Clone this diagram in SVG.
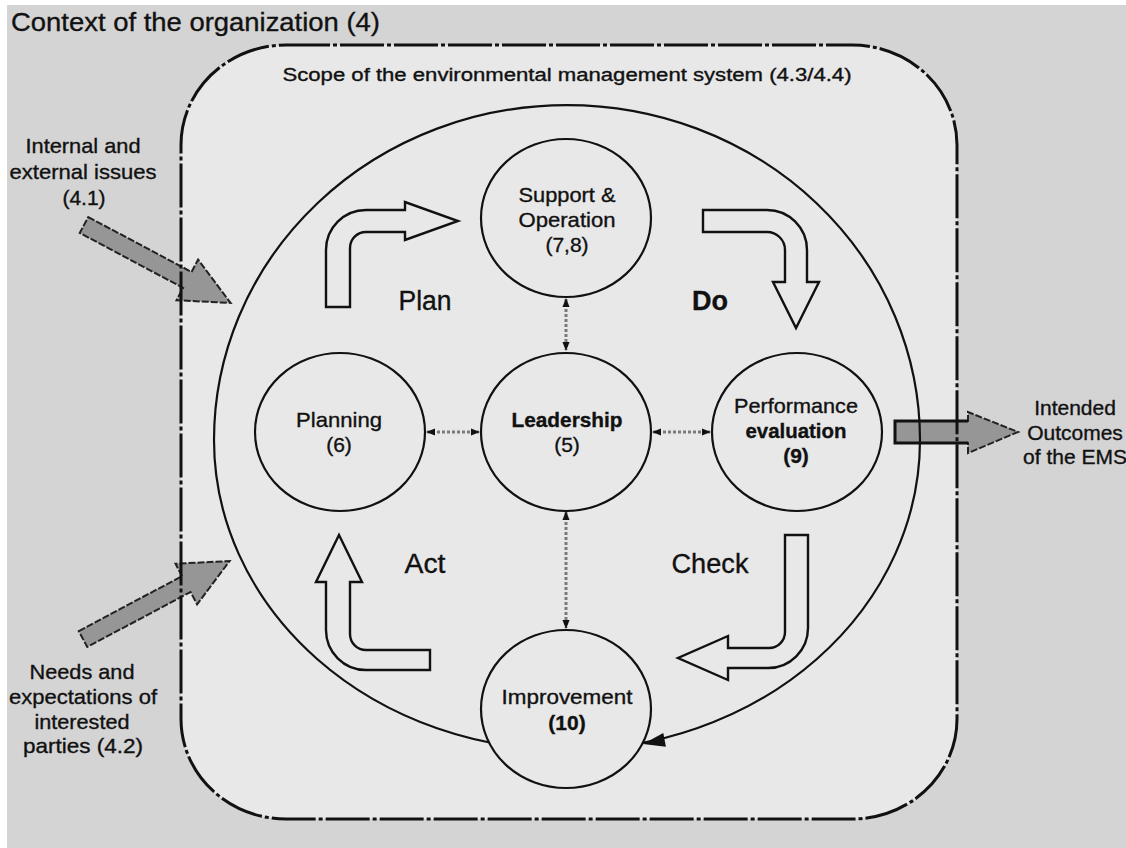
<svg xmlns="http://www.w3.org/2000/svg" width="1126" height="848" viewBox="0 0 1126 848">
<style>
text{font-family:"Liberation Sans",Arial,Helvetica,sans-serif;fill:#111;stroke:#111;stroke-width:0.35}
.lbl{font-size:21px;text-anchor:middle}
.b{font-weight:bold}
.pdca{font-size:27px;text-anchor:middle}
.node{fill:#e8e8e8;stroke:#111;stroke-width:2.2}
.hollow{fill:#e8e8e8;stroke:#111;stroke-width:2.4}
.gray{fill:#969696;stroke:#222;stroke-width:2;stroke-dasharray:7 2}
.conn{stroke:#7a7a7a;stroke-width:3;stroke-dasharray:3 2;fill:none}
</style>
<defs>
<marker id="ah" viewBox="0 0 10 10" refX="9" refY="5" markerWidth="9" markerHeight="9" markerUnits="userSpaceOnUse" orient="auto-start-reverse"><path d="M0,1 L10,5 L0,9 z" fill="#111"/></marker>
</defs>
<rect x="0" y="0" width="1126" height="848" fill="#ffffff"/>
<rect x="7" y="5" width="1119" height="843" fill="#d4d4d4"/>
<text x="11" y="31" font-size="26" textLength="369" lengthAdjust="spacingAndGlyphs">Context of the organization (4)</text>
<rect x="181" y="45" width="776" height="774" rx="105" ry="100" fill="#e8e8e8"/>
<g id="input-issues">
<polygon class="gray" points="0,-9 117,-9 117,-23 166,0 117,23 117,9 0,9" transform="translate(84,225) rotate(28)"/>
<text class="lbl" x="83" y="153" textLength="115" lengthAdjust="spacingAndGlyphs">Internal and</text>
<text class="lbl" x="83" y="179" textLength="147" lengthAdjust="spacingAndGlyphs">external issues</text>
<text class="lbl" x="84" y="205">(4.1)</text>
</g>
<g id="input-needs">
<polygon class="gray" points="0,-9 117,-9 117,-23 166,0 117,23 117,9 0,9" transform="translate(83,639) rotate(-28)"/>
<text class="lbl" x="82" y="679" textLength="105" lengthAdjust="spacingAndGlyphs">Needs and</text>
<text class="lbl" x="83" y="704" textLength="148" lengthAdjust="spacingAndGlyphs">expectations of</text>
<text class="lbl" x="82" y="729" textLength="95" lengthAdjust="spacingAndGlyphs">interested</text>
<text class="lbl" x="83" y="753" textLength="120" lengthAdjust="spacingAndGlyphs">parties (4.2)</text>
</g>
<g id="output-outcomes">
<polygon class="gray" points="895,421 968,421 968,412 1018,432 968,453 968,443 895,443"/>
<path d="M968,421 H895 V443 H968" fill="none" stroke="#111" stroke-width="3"/>
<text class="lbl" x="1075" y="415">Intended</text>
<text class="lbl" x="1075" y="440">Outcomes</text>
<text class="lbl" x="1075" y="464">of the EMS</text>
</g>
<g id="scope">
<rect x="181" y="45" width="776" height="774" rx="105" ry="100" fill="none" stroke="#111" stroke-width="3" stroke-dasharray="44 3 4 3"/>
<text x="567" y="81" font-size="18" text-anchor="middle" textLength="569" lengthAdjust="spacingAndGlyphs">Scope of the environmental management system (4.3/4.4)</text>
</g>
<g id="cycle">
<path d="M214,440 A353,335 0 0 1 920,440 A353,310 0 0 1 567,750 A353,310 0 0 1 214,440 Z" fill="none" stroke="#111" stroke-width="2.2"/>
</g>
<g id="pdca-arrows">
<path id="arrow-plan" class="hollow" d="M326,307 V250 A40,40 0 0 1 366,210 H405 V202 L458,221 L405,240 V232 H366 A16,16 0 0 0 350,248 V307 Z"/>
<path id="arrow-do" class="hollow" d="M703,210 H767 A40,40 0 0 1 807,250 V282 H819 L796,328 L773,282 H785 V250 A18,18 0 0 0 767,232 H703 Z"/>
<path id="arrow-check" class="hollow" d="M785,535 H808 V628 A40,40 0 0 1 768,668 H728 V680 L678,658 L728,636 V648 H769 A16,16 0 0 0 785,632 Z"/>
<path id="arrow-act" class="hollow" d="M339,535 L362,582 H350 V634 A16,16 0 0 0 366,650 H430 V670 H366 A40,40 0 0 1 326,630 V582 H316 Z"/>
<text class="pdca" x="425" y="310" textLength="53" lengthAdjust="spacingAndGlyphs">Plan</text>
<text class="pdca b" x="710" y="310" textLength="36" lengthAdjust="spacingAndGlyphs">Do</text>
<text class="pdca" x="425" y="573" textLength="41" lengthAdjust="spacingAndGlyphs">Act</text>
<text class="pdca" x="710" y="573" textLength="77" lengthAdjust="spacingAndGlyphs">Check</text>
</g>
<g id="connectors">
<line class="conn" x1="566" y1="299" x2="566" y2="350" marker-start="url(#ah)" marker-end="url(#ah)"/>
<line class="conn" x1="566" y1="512" x2="566" y2="628" marker-start="url(#ah)" marker-end="url(#ah)"/>
<line class="conn" x1="427" y1="432" x2="479" y2="432" marker-start="url(#ah)" marker-end="url(#ah)"/>
<line class="conn" x1="653" y1="432" x2="710" y2="432" marker-start="url(#ah)" marker-end="url(#ah)"/>
</g>
<g id="node-support">
<ellipse class="node" cx="566" cy="218" rx="85" ry="79"/>
<text class="lbl" x="567" y="202" textLength="97" lengthAdjust="spacingAndGlyphs">Support &amp;</text>
<text class="lbl" x="567" y="227" textLength="97" lengthAdjust="spacingAndGlyphs">Operation</text>
<text class="lbl" x="567" y="252">(7,8)</text>
</g>
<g id="node-planning">
<ellipse class="node" cx="340" cy="432" rx="85" ry="79"/>
<text class="lbl" x="339" y="427" textLength="86" lengthAdjust="spacingAndGlyphs">Planning</text>
<text class="lbl" x="339" y="452">(6)</text>
</g>
<g id="node-leadership">
<ellipse class="node" cx="566" cy="432" rx="85" ry="79"/>
<text class="lbl b" x="567" y="427" textLength="111" lengthAdjust="spacingAndGlyphs">Leadership</text>
<text class="lbl" x="567" y="452">(5)</text>
</g>
<g id="node-performance">
<ellipse class="node" cx="797" cy="432" rx="85" ry="79"/>
<text class="lbl" x="796" y="413" textLength="124" lengthAdjust="spacingAndGlyphs">Performance</text>
<text class="lbl b" x="796" y="438" textLength="101" lengthAdjust="spacingAndGlyphs">evaluation</text>
<text class="lbl b" x="796" y="463">(9)</text>
</g>
<g id="node-improvement">
<ellipse class="node" cx="566" cy="709" rx="85" ry="79"/>
<text class="lbl" x="567" y="704" textLength="131" lengthAdjust="spacingAndGlyphs">Improvement</text>
<text class="lbl b" x="567" y="730">(10)</text>
<polygon points="643,744 663.3,733 665.9,746.8" fill="#111"/>
</g>
</svg>
